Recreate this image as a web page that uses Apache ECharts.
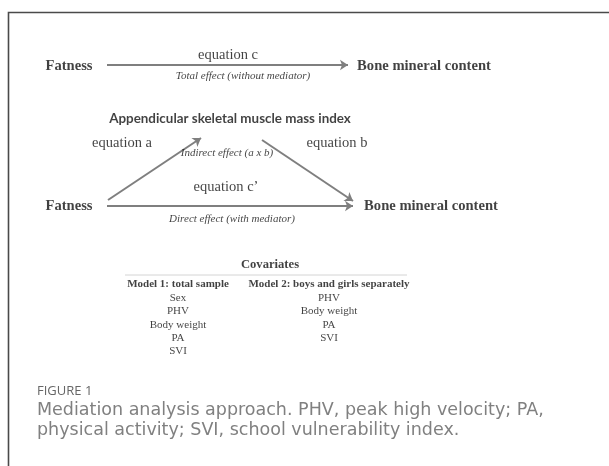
<!DOCTYPE html>
<html>
<head>
<meta charset="utf-8">
<script src="https://cdn.jsdelivr.net/npm/echarts@6/dist/echarts.min.js"></script>
<style>
  html, body { margin: 0; padding: 0; background: #fff; }
  #main { width: 609px; height: 466px; }
</style>
</head>
<body>
<div id="main"></div>
<script>
// diagram text
const boxLabels = ['Fatness', 'Bone mineral content', 'Appendicular skeletal muscle mass index'];
const pathLabels = ['equation c', 'equation a', 'equation b', 'equation c\u2019'];
const effectLabels = ['Total effect (without mediator)', 'Indirect effect (a x b)', 'Direct effect (with mediator)'];
const covariatesTitle = 'Covariates';
const modelHeaders = ['Model 1: total sample', 'Model 2: boys and girls separately'];
const model1Covariates = ['Sex', 'PHV', 'Body weight', 'PA', 'SVI'];
const model2Covariates = ['PHV', 'Body weight', 'PA', 'SVI'];
const figureLabel = 'FIGURE 1';
const captionLines = ['Mediation analysis approach. PHV, peak high velocity; PA,', 'physical activity; SVI, school vulnerability index.'];

// layout (pixel units on a hidden 609 x 466 axis)
const serif = '"Liberation Serif", "Times New Roman", serif';
const boxPos = {
  fatTop: [69, 66], bmcTop: [424, 66],
  fatBot: [69, 206], bmcBot: [431, 206],
  asmi: [230, 119]
};
const arrows = [
  [[107, 65], [348, 65]],     // c
  [[108, 200], [201, 138]],   // a
  [[262, 140], [353, 201]],   // b
  [[107, 206], [353, 206]]    // c'
];
const pathPos = [[228, 55], [122, 143], [337, 143], [226, 187]];
const effectPos = [[243, 76], [227, 153], [232, 219]];
const colX = [178, 329];
const rowY0 = 298, rowStep = 13.4;

function txt(name, pos, style) {
  return {
    name: name,
    value: pos,
    label: Object.assign({ show: true, position: 'inside', formatter: name, color: '#111', fontFamily: serif }, style)
  };
}

const textData = [];
textData.push(txt(boxLabels[0], boxPos.fatTop, { fontSize: 14.6, fontWeight: 'bold' }));
textData.push(txt(boxLabels[1], boxPos.bmcTop, { fontSize: 14.6, fontWeight: 'bold' }));
textData.push(txt(boxLabels[0], boxPos.fatBot, { fontSize: 14.6, fontWeight: 'bold' }));
textData.push(txt(boxLabels[1], boxPos.bmcBot, { fontSize: 14.6, fontWeight: 'bold' }));
textData.push(txt(boxLabels[2], boxPos.asmi, { fontSize: 13.4, fontWeight: 'bold', fontFamily: 'Lato, "Open Sans", sans-serif' }));
pathLabels.forEach((p, i) => textData.push(txt(p, pathPos[i], { fontSize: 14.5 })));
effectLabels.forEach((e, i) => textData.push(txt(e, effectPos[i], { fontSize: 11, fontStyle: 'italic' })));
textData.push(txt(covariatesTitle, [270, 265], { fontSize: 12.6, fontWeight: 'bold' }));
modelHeaders.forEach((m, i) => textData.push(txt(m, [colX[i], 284], { fontSize: 11, fontWeight: 'bold' })));
model1Covariates.forEach((c, i) => textData.push(txt(c, [colX[0], rowY0 + i * rowStep], { fontSize: 11 })));
model2Covariates.forEach((c, i) => textData.push(txt(c, [colX[1], rowY0 + i * rowStep], { fontSize: 11 })));

const chart = echarts.init(document.getElementById('main'));
chart.setOption({
  backgroundColor: '#fff',
  animation: false,
  title: {
    left: 37,
    top: 384,
    padding: 0,
    text: figureLabel,
    textStyle: { fontSize: 13, fontWeight: 'normal', color: '#666', fontFamily: '"Open Sans", sans-serif', lineHeight: 15 },
    subtext: captionLines.join('\n'),
    subtextStyle: { fontSize: 17.5, color: '#808080', fontFamily: '"DejaVu Sans", sans-serif', lineHeight: 20 },
    itemGap: 1
  },
  grid: { left: 0, right: 0, top: 0, bottom: 0 },
  xAxis: { type: 'value', min: 0, max: 609, show: false },
  yAxis: { type: 'value', min: 0, max: 466, inverse: true, show: false },
  graphic: [
    // figure frame (only top and left edges visible)
    { type: 'polyline', shape: { points: [[8.5, 470], [8.5, 12.5], [620, 12.5]] }, style: { stroke: '#4a4a4a', lineWidth: 1.6, fill: null } },
    // covariates rule
    { type: 'line', shape: { x1: 125, y1: 275, x2: 407, y2: 275 }, style: { stroke: '#d4d4d4', lineWidth: 1 } }
  ],
  series: [
    {
      type: 'lines',
      coordinateSystem: 'cartesian2d',
      symbol: ['none', 'arrow'],
      symbolSize: 8,
      lineStyle: { color: '#7f7f7f', width: 2, opacity: 1 },
      data: arrows.map(a => ({ coords: a })),
      silent: true
    },
    {
      type: 'scatter',
      symbolSize: 0,
      data: textData,
      silent: true
    }
  ]
});
</script>
</body>
</html>
